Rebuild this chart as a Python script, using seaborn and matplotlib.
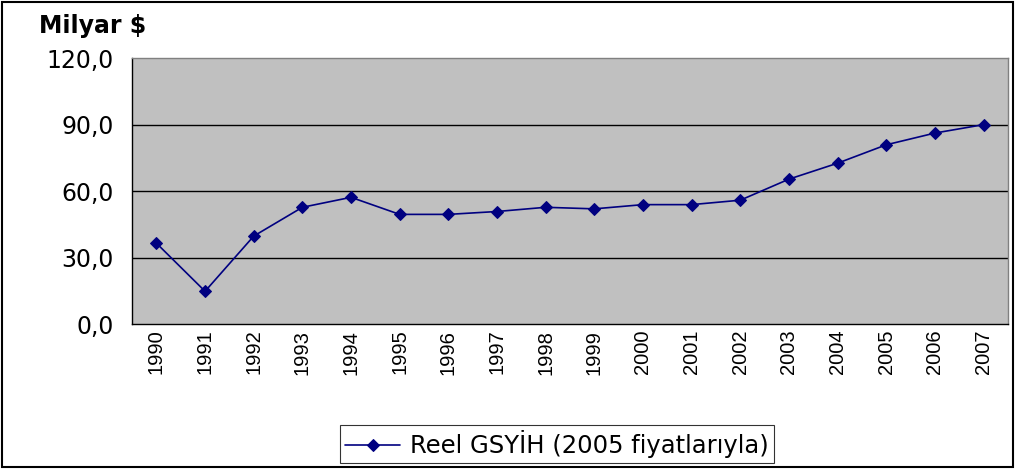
import matplotlib
matplotlib.use("Agg")
import matplotlib.pyplot as plt
import seaborn as sns
import pandas as pd
import numpy as np
from matplotlib.patches import Rectangle

years = ["1990", "1991", "1992", "1993", "1994", "1995", "1996", "1997", "1998",
         "1999", "2000", "2001", "2002", "2003", "2004", "2005", "2006", "2007"]
gdp = [36.5, 14.8, 39.7, 52.7, 57.2, 49.5, 49.5, 50.8, 52.7,
       52.0, 53.9, 53.9, 55.9, 65.4, 72.6, 80.9, 86.2, 90.0]
yticks = [0, 30, 60, 90, 120]
ytick_labels = ["0,0", "30,0", "60,0", "90,0", "120,0"]
series_name = "Reel GSYİH (2005 fiyatlarıyla)"

sns.set_style("white")
plt.rcParams['font.family'] = ['DejaVu Sans']
plt.rcParams['text.color'] = 'black'
plt.rcParams['xtick.color'] = 'black'
plt.rcParams['ytick.color'] = 'black'
plt.rcParams['xtick.labelcolor'] = 'black'
plt.rcParams['ytick.labelcolor'] = 'black'

df = pd.DataFrame({"idx": np.arange(len(years)), "val": gdp})

fig = plt.figure(figsize=(10.16, 4.69), dpi=100)
ax = fig.add_axes([0.130, 0.309, 0.862, 0.567])
ax.set_facecolor("#C0C0C0")

sns.lineplot(data=df, x="idx", y="val", ax=ax, color="#000080", marker="D",
             markersize=6, markeredgecolor="#000080", linewidth=1.2, label=series_name)

ax.set_xlim(-0.5, len(years) - 0.5)
ax.set_ylim(0, 120)
ax.set_yticks(yticks)
ax.set_yticklabels(ytick_labels, fontsize=17, color="black")
ax.set_xticks(np.arange(len(years)))
ax.set_xticklabels(years, rotation=90, fontsize=14.5, color="black",
                   family=['Liberation Sans', 'DejaVu Sans'])
ax.set_xticks(np.arange(-0.5, len(years)), minor=True)
ax.tick_params(axis="x", which="major", length=0, pad=4)
ax.tick_params(axis="x", which="minor", length=5, width=1, color="black", direction="out")
ax.tick_params(axis="y", length=7, width=1, color="black", direction="out", pad=6)
ax.set_xlabel("")
ax.set_ylabel("")

for y in [30, 60, 90]:
    ax.axhline(y, color="black", linewidth=1, zorder=1)

for s in ["top", "right"]:
    ax.spines[s].set_color("#808080")
    ax.spines[s].set_linewidth(1)
for s in ["left", "bottom"]:
    ax.spines[s].set_color("black")
    ax.spines[s].set_linewidth(1)

fig.text(0.038, 0.945, "Milyar $", fontsize=17, fontweight="bold", color="black",
         ha="left", va="center")

leg = ax.legend(loc="center", bbox_to_anchor=(0.548, 0.053), bbox_transform=fig.transFigure,
                fontsize=17.5, frameon=True, fancybox=False, edgecolor="black",
                handlelength=2.3, handletextpad=0.4, borderpad=0.2, borderaxespad=0)
leg.get_frame().set_linewidth(0.8)
for t in leg.get_texts():
    t.set_color("black")

fig.patches.append(Rectangle((0.002, 0.004), 0.995, 0.992, transform=fig.transFigure,
                             fill=False, edgecolor="black", linewidth=1.5))

fig.savefig("out.png", dpi=100, facecolor="white")
